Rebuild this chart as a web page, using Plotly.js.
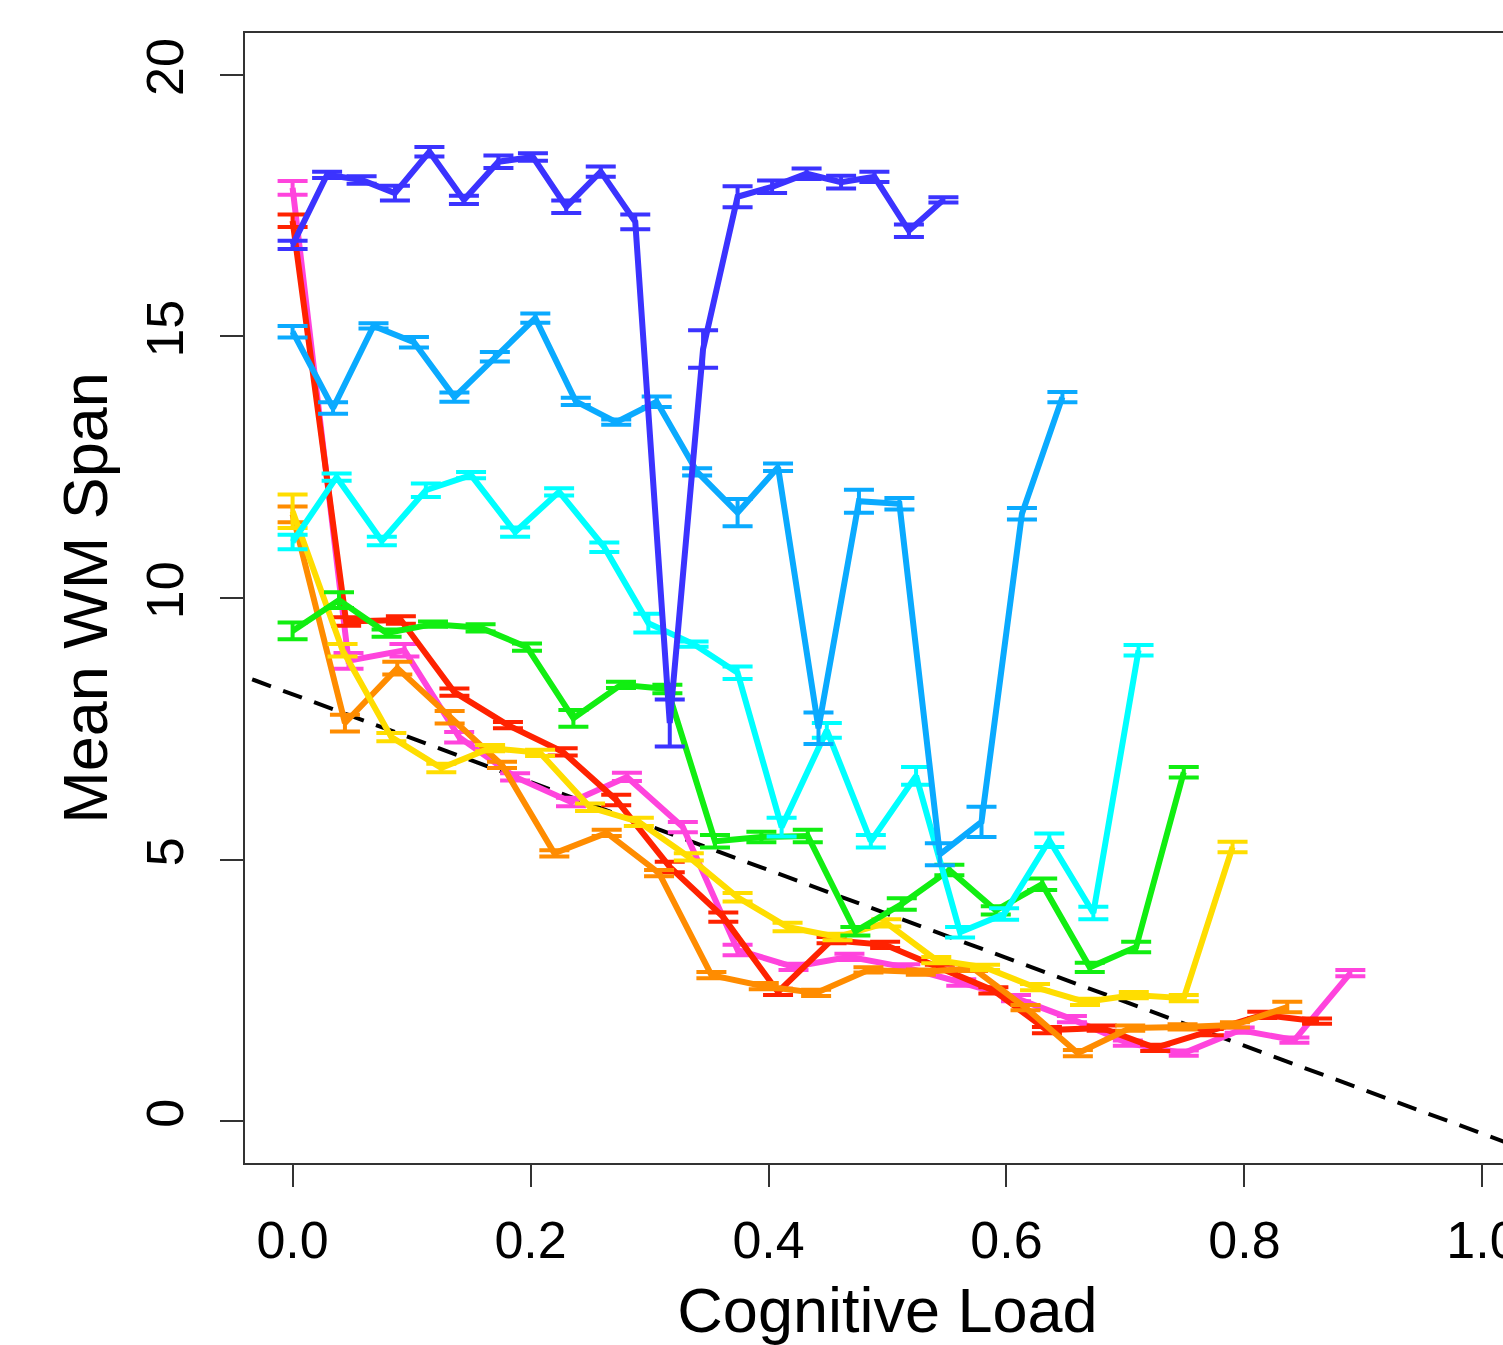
<!DOCTYPE html>
<html>
<head>
<meta charset="utf-8">
<script src="https://cdn.plot.ly/plotly-3.0.1.min.js"></script>
<style>
  html, body { margin: 0; padding: 0; background: #fff; overflow: hidden; }
  #chart { width: 1530px; height: 1345px; }
</style>
</head>
<body>
<div id="chart"></div>
<script>
// ---- data ----
const blueX = [0, 0.029, 0.058, 0.086, 0.115, 0.144, 0.173, 0.202, 0.230, 0.259, 0.288, 0.317, 0.345, 0.374, 0.403, 0.432, 0.461, 0.489, 0.518, 0.547];
const blueY = [16.75, 18.09, 17.99, 17.74, 18.53, 17.61, 18.34, 18.43, 17.48, 18.15, 17.19, 7.61, 14.76, 17.67, 17.86, 18.11, 17.95, 18.05, 17.02, 17.61];
const blueErr = [0.08, 0.06, 0.07, 0.14, 0.09, 0.08, 0.12, 0.07, 0.12, 0.10, 0.14, 0.45, 0.36, 0.20, 0.12, 0.10, 0.12, 0.10, 0.12, 0.05];

const skyX = [0, 0.034, 0.068, 0.102, 0.136, 0.170, 0.204, 0.238, 0.272, 0.306, 0.340, 0.374, 0.408, 0.442, 0.476, 0.510, 0.544, 0.579, 0.613, 0.647];
const skyY = [15.09, 13.63, 15.20, 14.89, 13.84, 14.61, 15.35, 13.76, 13.36, 13.75, 12.41, 11.63, 12.50, 7.51, 11.85, 11.80, 5.10, 5.72, 11.61, 13.84];
const skyErr = [0.11, 0.11, 0.05, 0.10, 0.09, 0.09, 0.09, 0.07, 0.05, 0.10, 0.07, 0.26, 0.07, 0.30, 0.22, 0.11, 0.21, 0.29, 0.11, 0.10];

const cyanX = [0, 0.037, 0.075, 0.112, 0.150, 0.187, 0.224, 0.262, 0.299, 0.337, 0.374, 0.411, 0.449, 0.486, 0.524, 0.561, 0.598, 0.636, 0.673, 0.711];
const cyanY = [11.07, 12.31, 11.09, 12.06, 12.35, 11.26, 12.03, 10.97, 9.52, 9.12, 8.57, 5.62, 7.47, 5.35, 6.60, 3.61, 3.96, 5.37, 3.98, 9.00];
const cyanErr = [0.14, 0.07, 0.08, 0.13, 0.06, 0.09, 0.07, 0.09, 0.18, 0.05, 0.12, 0.18, 0.14, 0.12, 0.17, 0.10, 0.11, 0.13, 0.12, 0.10];

const greenX = [0, 0.039, 0.079, 0.118, 0.158, 0.197, 0.236, 0.276, 0.315, 0.355, 0.394, 0.433, 0.473, 0.512, 0.552, 0.591, 0.630, 0.670, 0.709, 0.749];
const greenY = [9.37, 9.96, 9.33, 9.50, 9.43, 9.06, 7.70, 8.34, 8.26, 5.35, 5.43, 5.45, 3.63, 4.15, 4.80, 4.03, 4.53, 2.94, 3.33, 6.67];
const greenErr = [0.16, 0.15, 0.07, 0.05, 0.07, 0.07, 0.16, 0.06, 0.08, 0.12, 0.10, 0.12, 0.08, 0.11, 0.10, 0.08, 0.11, 0.09, 0.10, 0.10];

const yellowX = [0, 0.042, 0.083, 0.125, 0.166, 0.208, 0.250, 0.291, 0.333, 0.374, 0.416, 0.458, 0.499, 0.541, 0.582, 0.624, 0.666, 0.707, 0.749, 0.790];
const yellowY = [11.66, 9.00, 7.34, 6.75, 7.13, 7.04, 6.00, 5.72, 5.05, 4.28, 3.71, 3.52, 3.79, 3.08, 2.94, 2.56, 2.28, 2.41, 2.35, 5.24];
const yellowErr = [0.32, 0.12, 0.08, 0.08, 0.06, 0.06, 0.07, 0.08, 0.07, 0.08, 0.08, 0.06, 0.07, 0.06, 0.05, 0.06, 0.06, 0.06, 0.06, 0.10];

const orangeX = [0, 0.044, 0.088, 0.132, 0.176, 0.220, 0.264, 0.308, 0.352, 0.396, 0.440, 0.484, 0.528, 0.572, 0.616, 0.660, 0.704, 0.748, 0.792, 0.836];
const orangeY = [11.60, 7.61, 8.66, 7.72, 6.81, 5.12, 5.51, 4.74, 2.79, 2.58, 2.45, 2.89, 2.85, 2.92, 2.17, 1.30, 1.78, 1.80, 1.84, 2.18];
const orangeErr = [0.15, 0.16, 0.12, 0.12, 0.06, 0.06, 0.06, 0.06, 0.06, 0.06, 0.06, 0.05, 0.05, 0.05, 0.05, 0.06, 0.05, 0.05, 0.05, 0.10];

const redX = [0, 0.045, 0.091, 0.136, 0.181, 0.227, 0.272, 0.317, 0.362, 0.408, 0.453, 0.498, 0.544, 0.589, 0.634, 0.680, 0.725, 0.770, 0.815, 0.861];
const redY = [17.21, 9.55, 9.58, 8.20, 7.57, 7.06, 6.14, 4.86, 3.90, 2.47, 3.46, 3.37, 2.93, 2.50, 1.74, 1.78, 1.40, 1.70, 2.03, 1.91];
const redErr = [0.12, 0.08, 0.07, 0.07, 0.06, 0.07, 0.10, 0.10, 0.09, 0.06, 0.06, 0.06, 0.06, 0.06, 0.06, 0.05, 0.06, 0.06, 0.06, 0.05];

const magentaX = [0, 0.047, 0.094, 0.140, 0.187, 0.234, 0.281, 0.328, 0.374, 0.421, 0.468, 0.515, 0.562, 0.608, 0.655, 0.702, 0.749, 0.796, 0.842, 0.889];
const magentaY = [17.84, 8.80, 9.00, 7.34, 6.58, 6.10, 6.58, 5.62, 3.27, 2.95, 3.14, 2.94, 2.65, 2.35, 1.95, 1.49, 1.30, 1.74, 1.55, 2.83];
const magentaErr = [0.13, 0.15, 0.12, 0.10, 0.07, 0.08, 0.08, 0.10, 0.10, 0.06, 0.06, 0.06, 0.06, 0.06, 0.06, 0.05, 0.05, 0.05, 0.05, 0.06];

// reference (dashed) line: intercept and slope
const fitIntercept = 8.16;
const fitSlope = -8.4;
const fitX = [-0.06, 1.08];

const xTicks = [0, 0.2, 0.4, 0.6, 0.8, 1.0];
const xTickText = ["0.0", "0.2", "0.4", "0.6", "0.8", "1.0"];
const yTicks = [0, 5, 10, 15, 20];
const yTickText = ["0", "5", "10", "15", "20"];

// ---- build traces ----
const series = [
  {x: magentaX, y: magentaY, e: magentaErr, c: '#ff44dd'},
  {x: redX, y: redY, e: redErr, c: '#ff2200'},
  {x: orangeX, y: orangeY, e: orangeErr, c: '#ff8c00'},
  {x: yellowX, y: yellowY, e: yellowErr, c: '#ffdd00'},
  {x: greenX, y: greenY, e: greenErr, c: '#11ee11'},
  {x: cyanX, y: cyanY, e: cyanErr, c: '#00ffff'},
  {x: skyX, y: skyY, e: skyErr, c: '#0aaaff'},
  {x: blueX, y: blueY, e: blueErr, c: '#3b33ff'}
];

const traces = [{
  x: fitX,
  y: fitX.map(v => fitIntercept + fitSlope * v),
  mode: 'lines',
  line: {color: '#000', width: 4, dash: '20px,13px'},
  hoverinfo: 'skip'
}];
series.forEach(s => {
  traces.push({
    x: s.x, y: s.y, mode: 'lines',
    line: {color: s.c, width: 6},
    error_y: {type: 'data', array: s.e, visible: true, color: s.c, thickness: 4, width: 15}
  });
});

const font = 'Liberation Sans, Arial, Helvetica, sans-serif';
const layout = {
  width: 1530, height: 1345,
  margin: {l: 245, r: 0, t: 33, b: 182},
  paper_bgcolor: '#fff', plot_bgcolor: '#fff',
  showlegend: false,
  font: {family: font, color: '#000'},
  xaxis: {
    range: [-0.04, 1.04],
    tickvals: xTicks, ticktext: xTickText,
    ticks: 'outside', ticklen: 22, tickwidth: 2, tickcolor: '#333',
    showline: true, linecolor: '#333', linewidth: 2, mirror: true,
    showgrid: false, zeroline: false,
    tickfont: {size: 52, family: font},
    ticklabelstandoff: 9,
    title: {text: 'Cognitive Load', font: {size: 63, family: font}, standoff: 22}
  },
  yaxis: {
    range: [-0.8, 20.8],
    tickvals: yTicks, ticktext: yTickText,
    tickangle: -90,
    ticks: 'outside', ticklen: 23, tickwidth: 2, tickcolor: '#333',
    showline: true, linecolor: '#333', linewidth: 2, mirror: true,
    showgrid: false, zeroline: false,
    tickfont: {size: 52, family: font},
    ticklabelstandoff: 16,
    title: {text: 'Mean WM Span', font: {size: 63, family: font}, standoff: 8}
  }
};

Plotly.newPlot('chart', traces, layout, {displayModeBar: false, staticPlot: true});
</script>
</body>
</html>
